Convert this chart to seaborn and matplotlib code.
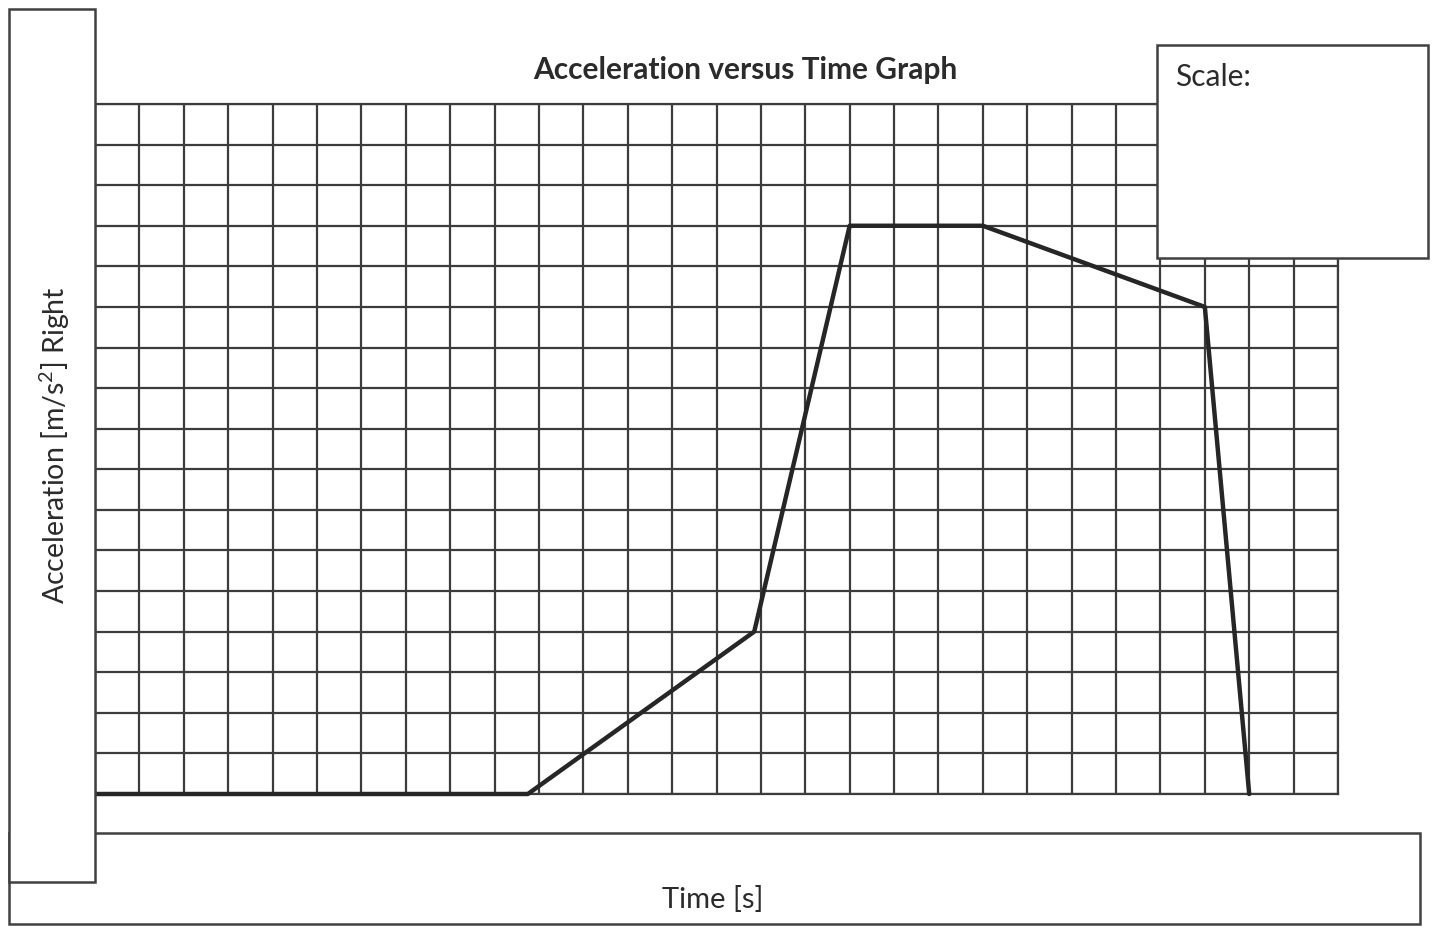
import matplotlib
matplotlib.use("Agg")
import matplotlib.pyplot as plt
from matplotlib.patches import Rectangle
import seaborn as sns
import pandas as pd
import numpy as np

# ---- data (grid units: columns of time, rows of acceleration) ----
time_vals = [0, 9.75, 14.85, 17, 20, 25, 26]
accel_vals = [0, 0, 4, 14, 14, 12, 0]
n_cols = 28
n_rows = 17

title_text = "Acceleration versus Time Graph"
xlabel_text = "Time [s]"
ylabel_text = "Acceleration [m/s$^2$] Right"
scale_text = "Scale:"

sns.set_theme(style="white")
plt.rcParams['font.family'] = ['Lato', 'DejaVu Sans']
plt.rcParams['mathtext.fontset'] = 'custom'
plt.rcParams['mathtext.rm'] = 'Lato'

W, H = 1435, 933
fig = plt.figure(figsize=(W / 100, H / 100), dpi=100)
fig.patch.set_facecolor("white")

def fx(px):
    return px / W

def fy(py):
    return 1 - py / H

# axes placed at the grid area
gl, gr, gt, gb = 95, 1338, 104, 794
ax = fig.add_axes([fx(gl), fy(gb), fx(gr) - fx(gl), fy(gt) - fy(gb)])
ax.set_xlim(0, n_cols)
ax.set_ylim(0, n_rows)
ax.set_xticks(np.arange(0, n_cols + 1))
ax.set_yticks(np.arange(0, n_rows + 1))
ax.tick_params(length=0, labelbottom=False, labelleft=False)
ax.grid(True, color="#3c3c3c", linewidth=1.6)
for s in ax.spines.values():
    s.set_color("#3c3c3c")
    s.set_linewidth(1.6)

df = pd.DataFrame({"time": time_vals, "accel": accel_vals})
sns.lineplot(data=df, x="time", y="accel", sort=False, ax=ax,
             color="#262626", linewidth=3.2, clip_on=False, zorder=5)
ax.set_xlabel("")
ax.set_ylabel("")

edge = "#404040"

def box(x0, y0, x1, y1, z):
    r = Rectangle((fx(x0), fy(y1)), fx(x1) - fx(x0), fy(y0) - fy(y1),
                  transform=fig.transFigure, facecolor="white",
                  edgecolor=edge, linewidth=1.8, zorder=z)
    fig.add_artist(r)

# bottom (time label) box, then left (acceleration label) box on top
box(9, 833, 1420, 924, 2)
box(9, 9, 95, 882, 3)
# scale box overlapping the grid's top-right corner
box(1157, 45, 1428, 258, 4)

txt_color = "#2b2b2b"
fig.text(fx(745), fy(70), title_text, ha="center", va="center",
         fontsize=21.5, fontweight="bold", color=txt_color, zorder=6)
fig.text(fx(713), fy(900), xlabel_text, ha="center", va="center",
         fontsize=21, color=txt_color, zorder=6)
fig.text(fx(55), fy(445), ylabel_text, ha="center", va="center",
         rotation=90, fontsize=20.5, color=txt_color, zorder=6)
fig.text(fx(1175), fy(77), scale_text, ha="left", va="center",
         fontsize=21.5, color=txt_color, zorder=6)

fig.savefig("out.png", dpi=100, facecolor="white")
